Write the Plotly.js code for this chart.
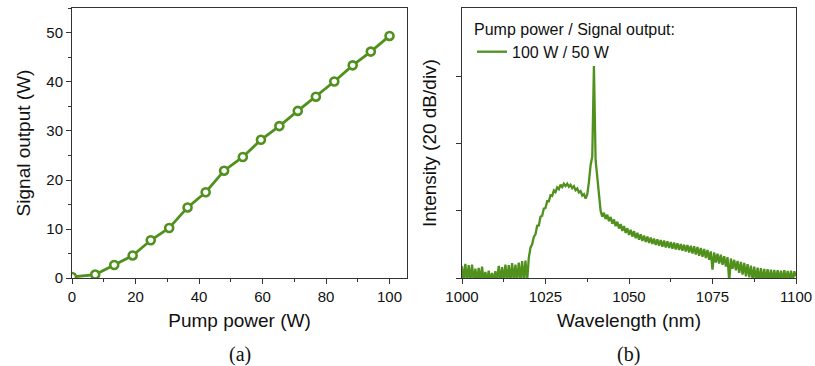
<!DOCTYPE html>
<html>
<head>
<meta charset="utf-8">
<script src="https://cdn.plot.ly/plotly-3.0.1.min.js"></script>
<style>html,body{margin:0;padding:0;background:#fff;}#chart{width:815px;height:366px;}</style>
</head>
<body>
<div id="chart"></div>
<script>
// (a) Pump power vs signal output
const pumpPower = [0, 7.3, 13.3, 19.1, 24.8, 30.6, 36.4, 42.1, 47.9, 53.8, 59.5, 65.3, 71.1, 76.8, 82.6, 88.4, 94.1, 100];
const signalOutput = [0.2, 0.7, 2.65, 4.6, 7.7, 10.2, 14.4, 17.5, 21.9, 24.7, 28.2, 31.0, 34.1, 37.0, 40.1, 43.4, 46.2, 49.4];

// (b) Output spectrum, dB (relative), sampled every 0.5 nm from 1000 nm
const wavelengthStart = 1000;
const wavelengthStep = 0.5;
const intensityDb = [
  3.5, -1, 4.2, -1, 3.8, -1, 4.0, -1, 2.8, -1,
  3.0, -1, 3.4, -1, 1.8, -1, 2.2, -1, 1.5, -1,
  2.0, -1, 3.6, -1, 3.2, -1, 4.0, -1, 3.8, -1,
  4.4, -1, 4.0, -1, 4.6, -1, 5.0, -1, 5.2, -1,
  6.0, 9.0, 10.0, 12.2, 13.0, 15.5, 15.6, 18.2, 18.5, 20.6,
  20.8, 22.8, 22.8, 24.6, 24.4, 26.0, 25.5, 26.9, 26.4, 27.7,
  27.0, 28.0, 27.3, 28.0, 27.1, 27.7, 26.7, 27.3, 26.1, 26.6,
  25.4, 25.8, 24.5, 24.9, 23.6, 24.8, 28.5, 33.5, 36.0, 63.0,
  35.0, 30.0, 24.5, 20.0, 18.2, 19.4, 17.5, 18.8, 16.9, 18.1,
  16.1, 17.4, 15.4, 16.7, 14.7, 16.0, 14.0, 15.4, 13.4, 14.8,
  12.8, 14.3, 12.3, 13.9, 11.8, 13.4, 11.4, 13.0, 11.0, 12.6,
  10.7, 12.3, 10.4, 12.0, 10.1, 11.7, 9.8, 11.5, 9.6, 11.3,
  9.3, 11.1, 9.1, 10.9, 8.9, 10.7, 8.7, 10.5, 8.5, 10.3,
  8.3, 10.1, 8.1, 9.9, 7.9, 9.8, 7.6, 9.6, 7.3, 9.4,
  7.0, 9.2, 6.6, 8.9, 6.3, 8.6, 5.9, 8.3, 5.4, 7.9,
  2.5, 7.6, 4.6, 7.2, 4.3, 6.9, 3.9, 6.5, 3.4, 6.2,
  -1, 5.8, 2.7, 5.4, 2.3, 5.1, 1.5, 4.8, 1.0, 4.5,
  0.5, 4.1, 0.2, 3.7, -0.5, 3.4, -1, 3.1, -1, 2.9,
  -1, 2.7, -1, 2.6, -1, 2.5, -1, 2.4, -1, 2.3,
  -1, 2.2, -1, 2.3, -1, 2.1, -1, 2.2, -1, 2.0,
  0.5
];

const legendTitle = 'Pump power / Signal output:';
const seriesName = '100 W / 50 W';

const green = '#50911e';
const font = 'Liberation Sans, Arial, sans-serif';

const traces = [
  {
    x: pumpPower, y: signalOutput, xaxis: 'x', yaxis: 'y',
    type: 'scatter', mode: 'lines+markers', showlegend: false,
    line: {color: green, width: 2.8},
    marker: {symbol: 'circle', size: 8, color: '#ffffff', line: {color: green, width: 2.6}}
  },
  {
    x0: wavelengthStart, dx: wavelengthStep, y: intensityDb, xaxis: 'x2', yaxis: 'y2',
    type: 'scatter', mode: 'lines', name: seriesName,
    line: {color: green, width: 2.3}
  }
];

const axBase = {
  showline: true, linecolor: '#333', linewidth: 1, mirror: true,
  showgrid: false, zeroline: false, ticks: 'outside', ticklen: 5, tickwidth: 1, tickcolor: '#333',
  tickfont: {family: font, size: 15, color: '#111'},
  minor: {ticks: 'outside', ticklen: 3, tickwidth: 1, tickcolor: '#333', showgrid: false}
};

const layout = {
  width: 815, height: 366,
  margin: {l: 0, r: 0, t: 0, b: 0},
  paper_bgcolor: '#fff', plot_bgcolor: '#fff',
  font: {family: font, color: '#111'},
  xaxis: Object.assign({}, axBase, {
    domain: [72/815, 407/815], range: [0, 105.5], dtick: 20, tick0: 0,
    minor: Object.assign({}, axBase.minor, {dtick: 10}),
    title: {text: 'Pump power (W)', font: {family: font, size: 19, color: '#111'}, standoff: 9}
  }),
  yaxis: Object.assign({}, axBase, {
    domain: [88/366, 358/366], range: [0, 55.1], dtick: 10, tick0: 0,
    minor: Object.assign({}, axBase.minor, {dtick: 5}),
    title: {text: 'Signal output (W)', font: {family: font, size: 19, color: '#111'}, standoff: 10}
  }),
  xaxis2: Object.assign({}, axBase, {
    anchor: 'y2',
    domain: [462/815, 796/815], range: [1000, 1100], dtick: 25, tick0: 1000,
    minor: Object.assign({}, axBase.minor, {dtick: 12.5}),
    title: {text: 'Wavelength (nm)', font: {family: font, size: 19, color: '#111'}, standoff: 9}
  }),
  yaxis2: Object.assign({}, axBase, {
    anchor: 'x2',
    domain: [88/366, 358/366], range: [0, 80.2], tickvals: [0, 20, 40, 60], showticklabels: false,
    minor: {ticks: ''},
    title: {text: 'Intensity (20 dB/div)', font: {family: font, size: 19, color: '#111'}, standoff: 14}
  }),
  showlegend: true,
  legend: {
    x: 472/815, y: 352/366, xanchor: 'left', yanchor: 'top',
    bgcolor: 'rgba(0,0,0,0)', borderwidth: 0,
    font: {family: font, size: 16, color: '#111'},
    title: {text: legendTitle, side: 'top', font: {family: font, size: 16, color: '#111'}},
    tracegroupgap: 0
  },
  annotations: [
    {text: '(a)', xref: 'paper', yref: 'paper', x: 240/815, y: 12/366, xanchor: 'center', yanchor: 'middle',
     showarrow: false, font: {family: 'Liberation Serif, Times New Roman, serif', size: 20, color: '#111'}},
    {text: '(b)', xref: 'paper', yref: 'paper', x: 628/815, y: 12/366, xanchor: 'center', yanchor: 'middle',
     showarrow: false, font: {family: 'Liberation Serif, Times New Roman, serif', size: 20, color: '#111'}}
  ]
};

Plotly.newPlot('chart', traces, layout, {displayModeBar: false, staticPlot: true});
</script>
</body>
</html>
